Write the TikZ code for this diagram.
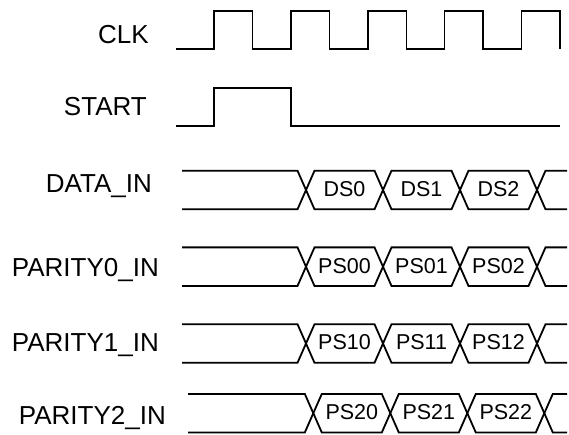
\documentclass[tikz,border=0pt]{standalone}
\usepackage{fontspec}
\setmainfont{Liberation Sans}
\tikzset{sig/.style={line width=1.8pt},
  signame/.style={anchor=east,inner sep=0pt,text height=0.716em,text depth=0pt,font=\fontsize{26}{30}\selectfont},
  val/.style={inner sep=0pt,text height=0.716em,text depth=0pt,font=\fontsize{21.5}{25}\selectfont}}

\begin{document}
\begin{tikzpicture}[x=1pt,y=-1pt]
\useasboundingbox (0,0) rectangle (569,435);
\node[signame](clk) at (149,40){CLK};
\node[signame](start) at (147,112){START};
\node[signame](din) at (152,189){DATA\_IN};
\node[signame](par0) at (159,273){PARITY0\_IN};
\node[signame](par1) at (159,348){PARITY1\_IN};
\node[signame](par2) at (166,421){PARITY2\_IN};
\draw[sig](176,49)-|(214,11)-|(252.5,49)-|(291,11)-|(329.5,49)-|(368,11)-|(406.5,49)-|(444.5,11)-|(483,49)-|(521.5,11)-|(560,49);
\draw[sig](176,126)-|(214,88)-|(291,126)--(560,126);
\foreach \r/\y/\s/\o/\a/\b/\c in {0/190/182/0/DS0/DS1/DS2,1/266.7/182/0/PS00/PS01/PS02,2/343.5/182/0/PS10/PS11/PS12,3/413.2/188/7.3/PS20/PS21/PS22}{
  \draw[sig](\s,\y-19.3)--(297.5+\o,\y-19.3)--(306+\o,\y)--(297.5+\o,\y+19.3)--(\s,\y+19.3);
  \foreach \x/\t in {306/\a,383/\b,460/\c}{
    \draw[sig](\x+\o,\y)--(\x+\o+8.5,\y-19.3)--(\x+\o+68.5,\y-19.3)--(\x+\o+77,\y)--(\x+\o+68.5,\y+19.3)--(\x+\o+8.5,\y+19.3)--cycle;
    \node[val](v\r\x) at (\x+\o+38.5,\y+2.8){\t};}
  \draw[sig](567,\y-19.3)--(545.5+\o,\y-19.3)--(537+\o,\y)--(545.5+\o,\y+19.3)--(567,\y+19.3);
}
\end{tikzpicture}
\end{document}
